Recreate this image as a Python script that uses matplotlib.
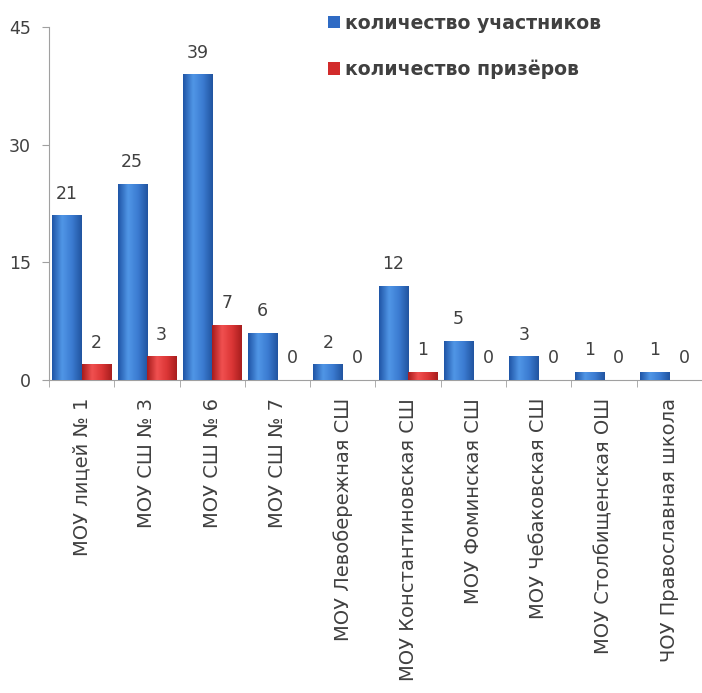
import numpy as np
import matplotlib
matplotlib.use("Agg")
import matplotlib.pyplot as plt
from matplotlib.colors import LinearSegmentedColormap

schools = ["МОУ лицей № 1", "МОУ СШ № 3", "МОУ СШ № 6", "МОУ СШ № 7",
           "МОУ Левобережная СШ", "МОУ Константиновская СШ",
           "МОУ Фоминская СШ", "МОУ Чебаковская СШ", "МОУ Столбищенская ОШ",
           "ЧОУ Православная школа"]
participants = [21, 25, 39, 6, 2, 12, 5, 3, 1, 1]
winners = [2, 3, 7, 0, 0, 1, 0, 0, 0, 0]
yticks = [0, 15, 30, 45]
series_names = ["количество участников", "количество призёров"]

TXT = "#404040"
plt.rcParams["font.family"] = ["DejaVu Sans"]

fig = plt.figure(figsize=(7.02, 6.93), dpi=100)
ax = fig.add_axes([0.0698, 0.452, 0.930, 0.509])

x = np.arange(len(schools))
w = 0.45
blue = ax.bar(x - w / 2, participants, w, color="#2f6bc4", label=series_names[0],
              zorder=2, linewidth=0)
red = ax.bar(x + w / 2, winners, w, color="#d22b2b", label=series_names[1],
             zorder=2, linewidth=0)

# Excel-like cylinder shading on each bar
cm_b = LinearSegmentedColormap.from_list("b", ["#1f55a6", "#5096e6", "#3c7cd2", "#2154a0"])
cm_r = LinearSegmentedColormap.from_list("r", ["#a81c1c", "#f05050", "#dc3636", "#a81e1e"])
grad = np.linspace(0, 1, 64).reshape(1, -1)
for bars, cm in ((blue, cm_b), (red, cm_r)):
    for p in bars:
        x0, y0 = p.get_x(), p.get_y()
        x1, y1 = x0 + p.get_width(), y0 + p.get_height()
        if y1 - y0 <= 0:
            continue
        im = ax.imshow(grad, extent=[x0, x1, y0, y1], aspect="auto", cmap=cm,
                       zorder=3, interpolation="bicubic")
        im.set_clip_path(p)

for bars, vals in ((blue, participants), (red, winners)):
    for p, v in zip(bars, vals):
        ax.annotate(str(v), (p.get_x() + p.get_width() / 2, v),
                    xytext=(0, 15.5), textcoords="offset points",
                    ha="center", va="center", fontsize=12.5, color=TXT)

ax.set_xlim(-0.5, len(schools) - 0.5)
ax.set_ylim(0, 45)
ax.set_yticks(yticks)
ax.set_xticks(x)
ax.set_xticklabels(schools, rotation=90, fontsize=14, color=TXT, va="top")
ax.set_xticks(np.arange(len(schools) + 1) - 0.5, minor=True)
ax.tick_params(axis="x", which="major", length=0, pad=13)
ax.tick_params(axis="x", which="minor", length=5, color="#a0a0a0", direction="out")
ax.tick_params(axis="y", length=5, color="#a0a0a0", labelsize=12.5, labelcolor=TXT, pad=8)
for s in ("top", "right"):
    ax.spines[s].set_visible(False)
for s in ("left", "bottom"):
    ax.spines[s].set_color("#a0a0a0")

fig.legend(handles=[blue, red], labels=series_names, loc="upper left",
           bbox_to_anchor=(0.443, 1.005), frameon=False, handlelength=0.65,
           handleheight=0.65, handletextpad=0.25, labelspacing=1.45,
           prop={"size": 13.6, "weight": "bold"}, labelcolor=TXT)

fig.savefig("out.png", dpi=100)
